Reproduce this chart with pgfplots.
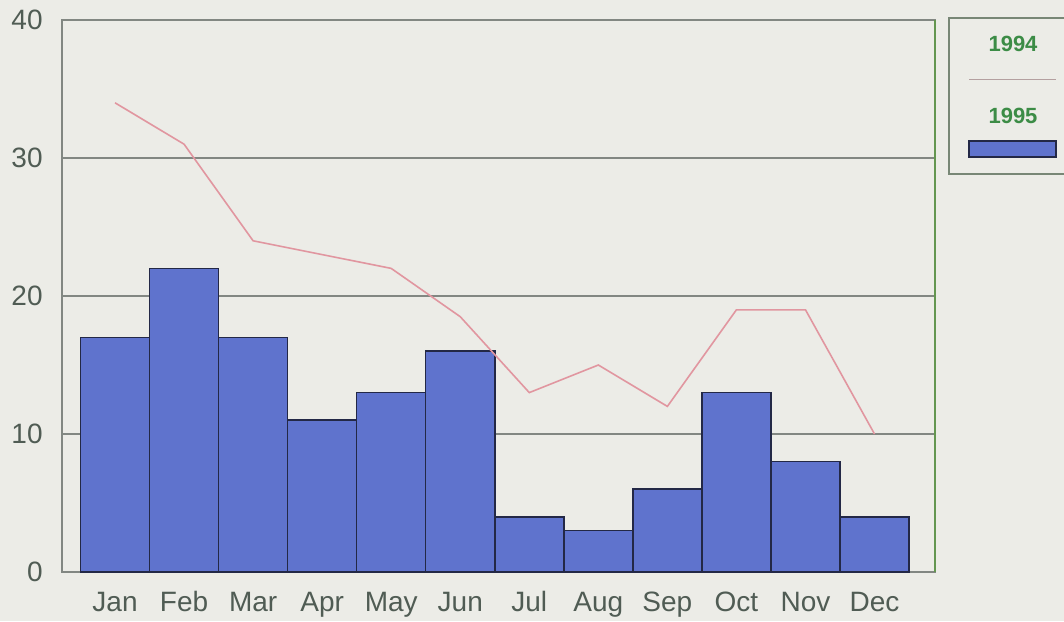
\documentclass[border=0pt]{standalone}
\usepackage{fontspec}
\setmainfont{Liberation Sans}
\usepackage{pgfplots}
\pgfplotsset{compat=1.18}
\definecolor{bg}{RGB}{236,236,231}
\definecolor{barblue}{RGB}{95,115,205}
\definecolor{baredge}{RGB}{35,40,70}
\definecolor{linepink}{RGB}{225,150,160}
\definecolor{txtgray}{RGB}{80,92,84}
\definecolor{gridgray}{RGB}{130,135,130}
\definecolor{leggreen}{RGB}{60,140,70}
\definecolor{axgreen}{RGB}{100,150,80}
\definecolor{legframe}{RGB}{120,135,118}
\definecolor{leglinecol}{RGB}{180,160,160}
\begin{document}
\begin{tikzpicture}
\fill[bg] (-31pt,-24.5pt) rectangle (501pt,286pt);
\begin{axis}[
  at={(0,0)}, anchor=south west,
  scale only axis, width=436.5pt, height=276pt,
  xmin=-0.768, xmax=11.876, ymin=0, ymax=40,
  xtick={0,...,11},
  xticklabels={Jan,Feb,Mar,Apr,May,Jun,Jul,Aug,Sep,Oct,Nov,Dec},
  ytick={0,10,20,30,40},
  tick style={draw=none},
  ymajorgrids, grid style={gridgray, line width=0.6pt},
  axis line style={gridgray, line width=0.9pt},
  axis background/.style={fill=bg},
  ticklabel style={font=\fontsize{14}{16}\selectfont, text=txtgray},
  xticklabel style={anchor=base, yshift=-19.5pt},
  yticklabel style={anchor=east, inner sep=0pt, xshift=-9.5pt},
  /pgf/number format/assume math mode=true,
  reverse legend,
  legend style={at={(axis description cs:1.0149,1.0054)}, anchor=north west,
    draw=legframe, line width=1pt, fill=bg, inner sep=0pt, row sep=0pt,
    column sep=0pt, nodes={inner sep=0pt}},
  after end axis/.code={\draw[axgreen, line width=1pt] (rel axis cs:1,0) -- (rel axis cs:1,1);},
]
\addplot[ybar, bar width=1, fill=barblue, draw=baredge, line width=0.75pt,
  legend image code/.code={
    \path[draw=none, fill=none] (0,0) rectangle (57pt,-37.5pt);
    \node[font=\bfseries\fontsize{11}{13}\selectfont, text=leggreen, inner sep=0pt, draw=none, fill=none] at (32pt,-9pt) {1995};
    \filldraw[fill=barblue, draw=baredge, line width=0.6pt] (10pt,-21pt) rectangle (53.5pt,-29pt);
  }] coordinates {(0,17) (1,22) (2,17) (3,11) (4,13) (5,16) (6,4) (7,3) (8,6) (9,13) (10,8) (11,4)};
\addlegendentry{\mbox{}}
\addplot[sharp plot, draw=linepink, line width=0.8pt, mark=none,
  legend image code/.code={
    \path[draw=none, fill=none] (0,0) rectangle (57pt,-39pt);
    \node[font=\bfseries\fontsize{11}{13}\selectfont, text=leggreen, inner sep=0pt, draw=none, fill=none] at (32pt,-13pt) {1994};
    \draw[leglinecol, line width=0.6pt] (10pt,-30pt) -- (53.5pt,-30pt);
  }] coordinates {(0,34) (1,31) (2,24) (3,23) (4,22) (5,18.5) (6,13) (7,15) (8,12) (9,19) (10,19) (11,10)};
\addlegendentry{\mbox{}}
\end{axis}
\pgfresetboundingbox
\path[use as bounding box] (-31pt,-24.5pt) rectangle (501pt,286pt);
\end{tikzpicture}
\end{document}
